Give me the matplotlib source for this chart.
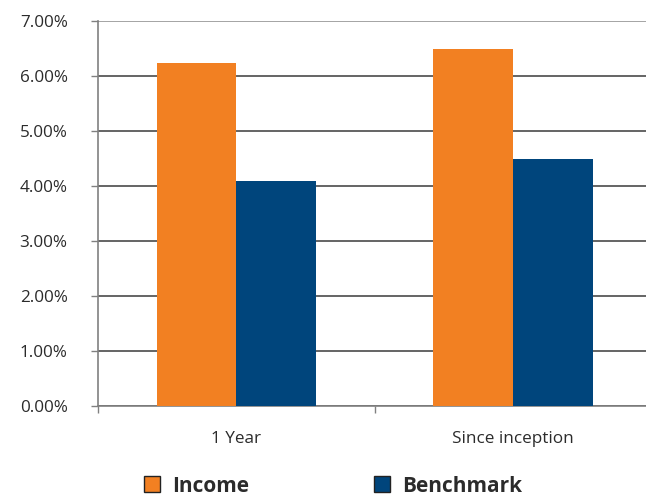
import numpy as np
import matplotlib.pyplot as plt
from matplotlib.ticker import FuncFormatter, FixedLocator

plt.rcParams['font.family'] = ['Open Sans', 'DejaVu Sans']

categories = ['1 Year', 'Since inception']
income = [6.24, 6.49]
benchmark = [4.09, 4.49]
yticks = [0, 1, 2, 3, 4, 5, 6, 7]

orange = '#F28022'
navy = '#00457C'
text_col = '#2b2b2b'

fig = plt.figure(figsize=(6.46, 4.97), dpi=100)
ax = fig.add_axes([0.152, 0.183, 0.856, 0.775])

x = np.arange(len(categories))
w = 0.288
ax.bar(x - w / 2, income, w, color=orange, linewidth=0, zorder=3, label='Income')
ax.bar(x + w / 2, benchmark, w, color=navy, linewidth=0, zorder=3, label='Benchmark')

ax.set_xlim(-0.5, 1.5)
ax.set_ylim(0, 7)
ax.set_yticks(yticks)
ax.yaxis.set_major_formatter(FuncFormatter(lambda v, p: f'{v:.2f}%'))
ax.set_xticks(x)
ax.set_xticklabels(categories)
ax.xaxis.set_minor_locator(FixedLocator([-0.5, 0.5, 1.5]))

ax.tick_params(axis='y', length=5, width=1, color='#808080', pad=17,
               labelsize=12.3, labelcolor=text_col)
ax.tick_params(axis='x', which='major', length=0, pad=18,
               labelsize=12.3, labelcolor=text_col)
ax.tick_params(axis='x', which='minor', length=5, width=1, color='#808080')

ax.grid(axis='y', color='#3a3a3a', linewidth=1.1, zorder=0)
ax.get_ygridlines()[-1].set_color('#8c8c8c')
ax.set_axisbelow(True)

for s in ['top', 'right']:
    ax.spines[s].set_visible(False)
for s in ['left', 'bottom']:
    ax.spines[s].set_color('#808080')
    ax.spines[s].set_linewidth(1.2)

handles, labels = ax.get_legend_handles_labels()
leg = fig.legend(handles, labels, loc='center', bbox_to_anchor=(0.515, 0.022),
                 ncol=2, frameon=False, handlelength=0.8, handleheight=0.8,
                 handletextpad=0.55, columnspacing=6.0,
                 prop={'size': 15, 'weight': 'bold'})
for t in leg.get_texts():
    t.set_color(text_col)
for p in leg.get_patches():
    p.set_edgecolor('#222222')
    p.set_linewidth(1)

plt.savefig('out.png', dpi=100)
